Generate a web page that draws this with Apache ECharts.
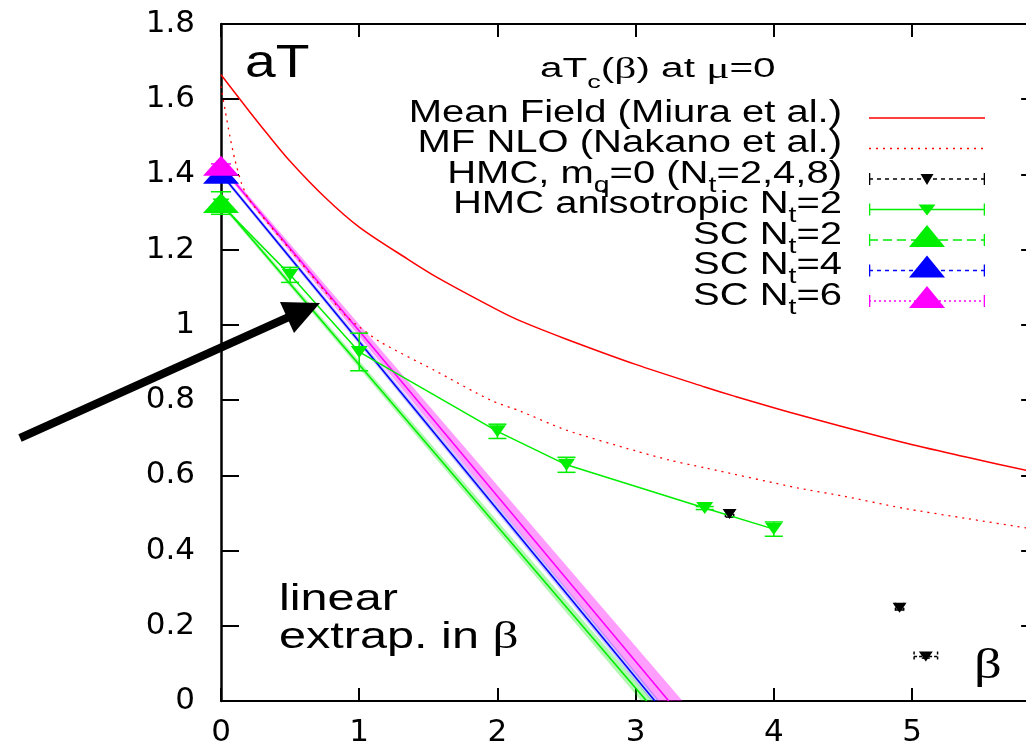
<!DOCTYPE html>
<html>
<head>
<meta charset="utf-8">
<script src="https://cdn.jsdelivr.net/npm/echarts@6/dist/echarts.min.js"></script>
<style>
  html, body { margin: 0; padding: 0; background: #fff; }
  #chart { width: 1026px; height: 746px; }
</style>
</head>
<body>
<div id="chart"></div>
<script>
// ---- data: critical temperature aT_c versus beta at mu = 0 ----
const xTickLabels = ['0', '1', '2', '3', '4', '5'];
const yTickLabels = ['0', '0.2', '0.4', '0.6', '0.8', '1', '1.2', '1.4', '1.6', '1.8'];

// Mean field, leading order (Miura et al.)
const mfBeta = [0, 0.2, 0.33, 0.5, 0.75, 1.0, 1.35, 1.57, 2.0, 2.17, 2.5, 3.0, 3.5, 3.72, 4.2, 4.93, 5.4, 5.83, 5.92];
const mfTc   = [1.665, 1.57, 1.51, 1.435, 1.34, 1.26, 1.175, 1.125, 1.04, 1.01, 0.962, 0.895, 0.835, 0.81, 0.759, 0.688, 0.648, 0.613, 0.606];

// Mean field, next-to-leading order (Nakano et al.)
const nloBeta = [0, 0.03, 0.065, 0.1, 0.15, 0.2, 0.33, 0.5, 0.75, 0.9, 1.0, 1.15, 1.54, 1.95, 2.17, 2.5, 3.0, 3.24, 3.5, 4.18, 4.5, 4.93, 5.4, 5.83, 5.92];
const nloTc   = [1.635, 1.57, 1.50, 1.44, 1.375, 1.335, 1.275, 1.20, 1.09, 1.025, 0.995, 0.955, 0.88, 0.80, 0.77, 0.72, 0.665, 0.641, 0.62, 0.566, 0.545, 0.513, 0.485, 0.46, 0.455];

// HMC, anisotropic lattice, N_t = 2
const hmcAnisoBeta = [0, 0.5, 1.0, 2.0, 2.5, 3.5, 4.0];
const hmcAnisoTc   = [1.32, 1.133, 0.928, 0.717, 0.628, 0.513, 0.457];
const hmcAnisoErr  = [0, 0.02, 0.05, 0.019, 0.02, 0.004, 0.019];

// HMC in the chiral limit, N_t = 2, 4, 8
const hmcChiralBeta    = [3.68, 4.91, 5.10];
const hmcChiralTc      = [0.497, 0.248, 0.118];
const hmcChiralBetaErr = [0.03, 0.03, 0.085];
const hmcChiralTcErr   = [0.008, 0.006, 0.004];

// strong coupling MC at beta = 0 and the linear extrapolation in beta
const scNt       = [2, 4, 6];
const scTc0      = [1.324, 1.402, 1.423];
const scTc0Err   = [0.03, 0.005, 0.005];
const scRoot     = [3.08, 3.14, 3.24];   // beta where the extrapolated aT_c reaches 0
const scRootLo   = [3.04, 3.115, 3.16];
const scRootHi   = [3.125, 3.175, 3.34];

const X_MAX = 5.92;

// ---- styling ----
const RED = '#ff0000', GREEN = '#00ee00', BLUE = '#0000ff', MAGENTA = '#ff00ff', BLACK = '#000000';
const scColors = [GREEN, BLUE, MAGENTA];
const scBand = ['rgba(0,230,0,0.30)', 'rgba(60,60,255,0.28)', 'rgba(255,0,255,0.38)'];
const SANS = 'Liberation Sans';
const SERIF = 'Liberation Serif';
const TICK_FONT = 'DejaVu Sans';

const zip = (a, b) => a.map((v, i) => [v, b[i]]);

const names = {
  mf: 'Mean Field (Miura et al.)',
  nlo: 'MF NLO (Nakano et al.)',
  chiral: 'HMC, m_q=0 (N_t=2,4,8)',
  aniso: 'HMC anisotropic N_t=2',
  sc: scNt.map(n => 'SC N_t=' + n)
};

// legend key glyph: line sample (solid / dashed), end caps and a marker
// (all sub-shapes wound the same way so overlaps stay filled)
function keyIconPath(k) {
  const W = 116, H = 26, x0 = 0, x1 = 116, cy = 16, mid = (x0 + x1) / 2, t = 1.3;
  let d = `M0,0h0.02v0.02h-0.02z M${W - 0.02},${H - 0.02}h0.02v0.02h-0.02z`;
  const bar = (a, b) => { d += ` M${a},${cy - t / 2}H${b}V${cy + t / 2}H${a}z`; };
  if (k.dash) {
    for (let a = x0; a < x1; a += k.dash[0] + k.dash[1]) bar(a, Math.min(a + k.dash[0], x1));
  } else {
    bar(x0, x1);
  }
  if (k.caps) {
    [x0, x1 - 1.3].forEach(cx => { d += ` M${cx},${cy - 6}h1.3v12h-1.3z`; });
  }
  if (k.marker === 'up') d += ` M${mid - k.mw / 2},${cy + 7}L${mid},${cy - 15}L${mid + k.mw / 2},${cy + 7}z`;
  if (k.marker === 'down') d += ` M${mid - k.mw / 2},${cy - 5}H${mid + k.mw / 2}L${mid},${cy + 6}z`;
  return 'path://' + d;
}

const legendKeys = [
  { name: names.mf },
  { name: names.nlo, dash: [2, 5] },
  { name: names.chiral, dash: [4, 4], caps: true, marker: 'down', mw: 13 },
  { name: names.aniso, caps: true, marker: 'down', mw: 17 },
  { name: names.sc[0], dash: [9, 5], caps: true, marker: 'up', mw: 36 },
  { name: names.sc[1], dash: [4, 4], caps: true, marker: 'up', mw: 36 },
  { name: names.sc[2], dash: [2, 3], caps: true, marker: 'up', mw: 36 }
];

// "N_t" -> rich text with a subscript
function richName(name) {
  return name.split(/_(.)/).map((p, i) => (i % 2 ? `{s|${p}}` : (p ? `{t|${p}}` : ''))).join('');
}

// error bars drawn through the axes' coordinate system
function errorBars(name, xs, ys, yErr, xErr, color, cap, z) {
  return {
    type: 'custom', name, z, silent: true, clip: false,
    data: xs.map((x, i) => [x, ys[i], yErr ? yErr[i] : 0, xErr ? xErr[i] : 0]),
    encode: { x: 0, y: 1 },
    renderItem(params, api) {
      const x = api.value(0), y = api.value(1), ey = api.value(2), ex = api.value(3);
      const style = { stroke: color, lineWidth: 1.5 };
      const kids = [];
      if (ey > 0) {
        const a = api.coord([x, y + ey]), b = api.coord([x, y - ey]);
        kids.push({ type: 'line', shape: { x1: a[0], y1: a[1], x2: b[0], y2: b[1] }, style });
        [a, b].forEach(p => kids.push({ type: 'line', shape: { x1: p[0] - cap, y1: p[1], x2: p[0] + cap, y2: p[1] }, style }));
      }
      if (ex > 0) {
        const dashed = { stroke: color, lineWidth: 1.5, lineDash: [3, 2] };
        const a = api.coord([x - ex, y]), b = api.coord([x + ex, y]);
        kids.push({ type: 'line', shape: { x1: a[0], y1: a[1], x2: b[0], y2: b[1] }, style: dashed });
        [a, b].forEach(p => kids.push({ type: 'line', shape: { x1: p[0], y1: p[1] - 5, x2: p[0], y2: p[1] + 5 }, style: dashed }));
      }
      return { type: 'group', children: kids };
    }
  };
}

const series = [];

// uncertainty bands of the linear extrapolations (magenta below blue below green)
[2, 1, 0].forEach(i => {
  series.push({
    type: 'custom', name: 'band' + scNt[i], z: 1, silent: true,
    data: [[0, scTc0[i], 0.006, scRootLo[i], scRootHi[i]]],
    encode: { x: 0, y: 1 },
    renderItem(params, api) {
      const y0 = api.value(1), d = api.value(2), lo = api.value(3), hi = api.value(4);
      const pts = [api.coord([0, y0 + d]), api.coord([hi, 0]), api.coord([lo, 0]), api.coord([0, y0 - d])];
      return { type: 'polygon', shape: { points: pts }, style: { fill: scBand[i] } };
    }
  });
});

// linear extrapolation lines
[2, 1, 0].forEach(i => {
  series.push({
    type: 'line', name: 'fit' + scNt[i], z: 2, silent: true, symbol: 'none',
    data: [[0, scTc0[i]], [scRoot[i], 0]],
    lineStyle: { color: scColors[i], width: 1.6 }
  });
});

series.push({
  type: 'line', name: names.mf, z: 2, symbol: 'none', silent: true, smooth: 0.3,
  data: zip(mfBeta, mfTc),
  itemStyle: { color: RED, opacity: 1 }, lineStyle: { color: RED, width: 1.5 }
});
series.push({
  type: 'line', name: names.nlo, z: 2, symbol: 'none', silent: true, smooth: 0.25,
  data: zip(nloBeta, nloTc),
  itemStyle: { color: RED, opacity: 1 }, lineStyle: { color: RED, width: 1.3, type: [2, 5] }
});

// HMC anisotropic: connected points with error bars
series.push(errorBars('errAniso', hmcAnisoBeta, hmcAnisoTc, hmcAnisoErr, null, GREEN, 9, 4));
series.push({
  type: 'line', name: names.aniso, z: 5, silent: true,
  data: zip(hmcAnisoBeta, hmcAnisoTc),
  symbol: 'triangle', symbolRotate: 180, symbolSize: [17, 12], showAllSymbol: true,
  itemStyle: { color: GREEN, opacity: 1 }, lineStyle: { color: GREEN, width: 1.5 }
});

// HMC chiral limit points
series.push(errorBars('errChiral', hmcChiralBeta, hmcChiralTc, hmcChiralTcErr, hmcChiralBetaErr, BLACK, 4, 4));
series.push({
  type: 'scatter', name: names.chiral, z: 5, silent: true,
  data: zip(hmcChiralBeta, hmcChiralTc),
  symbol: 'triangle', symbolRotate: 180, symbolSize: [14, 10],
  itemStyle: { color: BLACK, opacity: 1 }
});

// strong coupling points at beta = 0
scNt.forEach((n, i) => {
  series.push(errorBars('errSC' + n, [0], [scTc0[i]], [scTc0Err[i]], null, scColors[i], 10, 5 + i));
  series.push({
    type: 'scatter', name: names.sc[i], z: 6 + i, silent: true, clip: false,
    data: [[0, scTc0[i]]],
    symbol: 'triangle', symbolSize: [36, 20],
    itemStyle: { color: scColors[i], opacity: 1 }
  });
});

const axisLineStyle = { color: '#000', width: 2 };

// key layout: text rows right-aligned against the key samples
const KEY_TOP = 113, KEY_PITCH = 30.5, KEY_TEXT_RIGHT = 842;
const keyLabels = legendKeys.map((k, i) => ({
  type: 'text', x: KEY_TEXT_RIGHT, y: KEY_TOP + i * KEY_PITCH, scaleX: 1.29, z: 20, silent: true,
  style: {
    text: richName(k.name), align: 'right', verticalAlign: 'middle',
    rich: {
      t: { fontFamily: SANS, fontSize: 31, height: 30, lineHeight: 30, fill: '#000' },
      s: { fontFamily: SANS, fontSize: 22, height: 7, lineHeight: 7, padding: [23, 0, 0, 0], verticalAlign: 'top', fill: '#000' }
    }
  }
}));

const option = {
  animation: false,
  backgroundColor: '#fff',
  grid: { left: 221, top: 24, width: X_MAX * 138.2, height: 677, outerBoundsMode: 'none', containLabel: false },
  xAxis: [
    {
      type: 'value', min: 0, max: X_MAX, interval: 1, position: 'bottom',
      axisLine: { show: true, onZero: false, lineStyle: axisLineStyle },
      axisTick: { show: true, inside: true, length: 13, lineStyle: axisLineStyle },
      axisLabel: {
        showMaxLabel: false, margin: 16, color: '#000', fontFamily: TICK_FONT, fontSize: 31,
        formatter: v => xTickLabels[Math.round(v)] ?? ''
      },
      splitLine: { show: false }
    },
    {
      type: 'value', min: 0, max: X_MAX, interval: 1, position: 'top',
      axisLine: { show: true, onZero: false, lineStyle: axisLineStyle },
      axisTick: { show: true, inside: true, length: 13, lineStyle: axisLineStyle },
      axisLabel: { show: false }, splitLine: { show: false }
    }
  ],
  yAxis: [
    {
      type: 'value', min: 0, max: 1.8, interval: 0.2, position: 'left',
      axisLine: { show: true, onZero: false, lineStyle: { color: '#000', width: 2.5 } },
      axisTick: { show: true, inside: true, length: 18, lineStyle: axisLineStyle },
      axisLabel: {
        margin: 26, color: '#000', fontFamily: TICK_FONT, fontSize: 31,
        formatter: v => yTickLabels[Math.round(v / 0.2)] ?? ''
      },
      splitLine: { show: false }
    },
    {
      type: 'value', min: 0, max: 1.8, interval: 0.2, position: 'right',
      axisLine: { show: true, onZero: false, lineStyle: axisLineStyle },
      axisTick: { show: true, inside: true, length: 18, lineStyle: axisLineStyle },
      axisLabel: { show: false }, splitLine: { show: false }
    }
  ],
  // key samples; their captions are the rich text rows in `graphic`
  legend: {
    orient: 'vertical', right: 41, top: 102, padding: 0, itemGap: 4.5,
    align: 'left', itemWidth: 116, itemHeight: 26, selectedMode: false,
    itemStyle: { borderWidth: 0, opacity: 1 },
    data: legendKeys.map(k => ({ name: k.name, icon: keyIconPath(k) })),
    formatter: () => '',
    textStyle: { fontSize: 1 }
  },
  graphic: [
    ...keyLabels,
    {
      type: 'text', x: 245, y: 64, scaleX: 1.2, z: 20,
      style: { text: 'aT', font: `46px "${SANS}"`, fill: '#000', align: 'left', verticalAlign: 'middle' }
    },
    {
      type: 'text', x: 540, y: 70, scaleX: 1.5, z: 20,
      style: {
        text: '{t|aT}{s|c}{t|(}{g|β}{t|) at }{g|μ}{t|=0}', align: 'left', verticalAlign: 'middle',
        rich: {
          t: { fontFamily: SANS, fontSize: 27, height: 32, lineHeight: 32, fill: '#000' },
          g: { fontFamily: SERIF, fontSize: 29, height: 32, lineHeight: 32, fill: '#000' },
          s: { fontFamily: SANS, fontSize: 18, height: 6, lineHeight: 6, padding: [26, 0, 0, 0], verticalAlign: 'top', fill: '#000' }
        }
      }
    },
    {
      type: 'text', x: 279, y: 600, scaleX: 1.35, z: 20,
      style: { text: 'linear', font: `36px "${SANS}"`, fill: '#000', align: 'left', verticalAlign: 'middle' }
    },
    {
      type: 'text', x: 279, y: 638, scaleX: 1.35, z: 20,
      style: {
        text: '{t|extrap. in }{g|β}', align: 'left', verticalAlign: 'middle',
        rich: {
          t: { fontFamily: SANS, fontSize: 36, height: 38, lineHeight: 38, fill: '#000' },
          g: { fontFamily: SERIF, fontSize: 38, height: 38, lineHeight: 38, fill: '#000' }
        }
      }
    },
    {
      type: 'text', x: 988, y: 667, scaleX: 1.3, z: 20,
      style: { text: 'β', font: `42px "${SERIF}"`, fill: '#000', align: 'center', verticalAlign: 'middle' }
    },
    {
      type: 'line', z: 20, shape: { x1: 20, y1: 438, x2: 290, y2: 316.5 },
      style: { stroke: '#000', lineWidth: 8 }
    },
    {
      type: 'polygon', z: 20, shape: { points: [[320, 303], [280, 302], [294, 333]] },
      style: { fill: '#000' }
    }
  ],
  series
};

const chart = echarts.init(document.getElementById('chart'), null, { renderer: 'canvas' });
chart.setOption(option);
</script>
</body>
</html>
